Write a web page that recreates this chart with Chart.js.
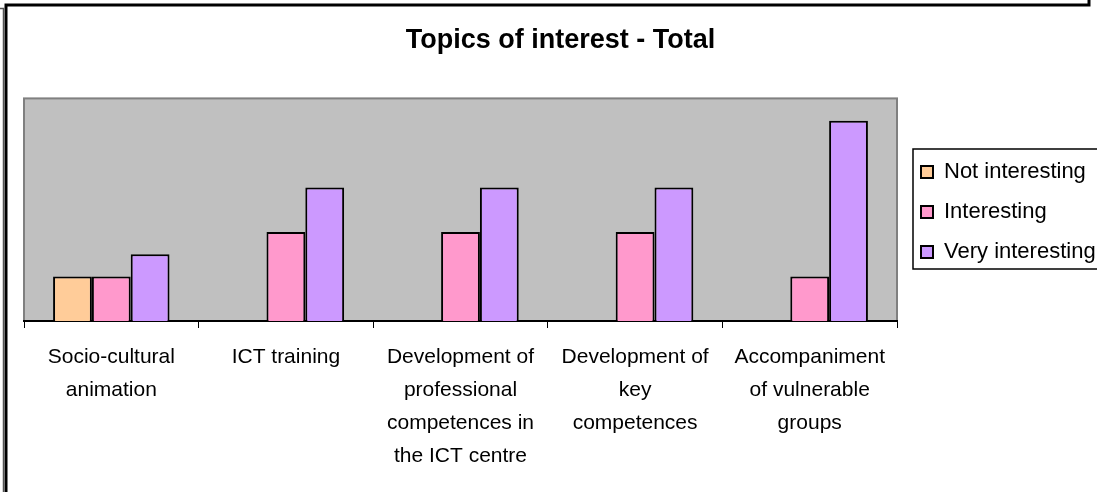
<!DOCTYPE html>
<html>
<head>
<meta charset="utf-8">
<title>Topics of interest - Total</title>
<script src="https://cdn.jsdelivr.net/npm/chart.js@4.4.1/dist/chart.umd.min.js"></script>
<style>
  body { margin: 0; background: #ffffff; }
  canvas { display: block; }
</style>
</head>
<body>
<canvas id="grafica" width="1097" height="492"></canvas>
<script>
// datos
var categorias = [
    ["Socio-cultural", "animation"],
    ["ICT training"],
    ["Development of", "professional", "competences in", "the ICT centre"],
    ["Development of", "key", "competences"],
    ["Accompaniment", "of vulnerable", "groups"]
];
var series = ["Not interesting", "Interesting", "Very interesting"];
var noInteresante = [2, 0, 0, 0, 0];
var interesante = [2, 4, 4, 4, 2];
var muyInteresante = [3, 6, 6, 6, 9];
var ejeMax = 10;

var fuente = "'Liberation Sans', Arial, sans-serif";

// marco negro del area del grafico
var marco = {
    id: "marco",
    beforeDraw: function (chart) {
        var ctx = chart.ctx;
        var a = chart.chartArea;
        ctx.save();
        ctx.fillStyle = "#ffffff";
        ctx.fillRect(0, 0, chart.width, chart.height);
        // fondo gris de la zona de trazado
        ctx.fillStyle = "#c0c0c0";
        ctx.fillRect(a.left, a.top, a.right - a.left, a.bottom - a.top);
        ctx.strokeStyle = "#808080";
        ctx.lineWidth = 2;
        ctx.strokeRect(a.left, a.top, a.right - a.left, a.bottom - a.top);
        // bordes exteriores
        ctx.strokeStyle = "#000000";
        ctx.lineWidth = 3;
        ctx.beginPath();
        ctx.moveTo(6, chart.height);
        ctx.lineTo(6, 5);
        ctx.lineTo(1089, 5);
        ctx.lineTo(1089, 0);
        ctx.stroke();
        ctx.lineWidth = 1.5;
        ctx.strokeStyle = "#555555";
        ctx.beginPath();
        ctx.moveTo(0, 8.5);
        ctx.lineTo(3.5, 8.5);
        ctx.lineTo(3.5, chart.height);
        ctx.stroke();
        ctx.restore();
    },
    afterLayout: function (chart) {
        // mover un poco la leyenda
        chart.legend.left += 6;
        chart.legend.top -= 34;
        chart.legend.bottom -= 34;
    },
    afterDraw: function (chart) {
        var cajas = chart.legend.legendHitBoxes;
        if (!cajas || !cajas.length) return;
        var ctx = chart.ctx;
        var arriba = cajas[0].top - 12;
        var abajo = cajas[cajas.length - 1].top + 28;
        ctx.save();
        ctx.strokeStyle = "#000000";
        ctx.lineWidth = 1.5;
        ctx.strokeRect(cajas[0].left - 8, arriba, 300, abajo - arriba);
        ctx.restore();
    }
};

var anchoLeyenda = {
    id: "anchoLeyenda",
    afterInit: function (chart) {
        var lg = chart.legend;
        var fitOriginal = lg.fit.bind(lg);
        lg.fit = function () {
            fitOriginal();
            this.width = 200;
        };
    }
};

var miCanvas = document.getElementById("grafica").getContext("2d");

var chart = new Chart(miCanvas, {
    type: "bar",
    data: {
        labels: categorias,
        datasets: [
            {
                label: series[0],
                backgroundColor: "#ffcc99",
                borderColor: "#000000",
                borderWidth: 2,
                data: noInteresante
            },
            {
                label: series[1],
                backgroundColor: "#ff99cc",
                borderColor: "#000000",
                borderWidth: 2,
                data: interesante
            },
            {
                label: series[2],
                backgroundColor: "#cc99ff",
                borderColor: "#000000",
                borderWidth: 2,
                data: muyInteresante
            }
        ]
    },
    options: {
        responsive: false,
        maintainAspectRatio: false,
        animation: false,
        layout: { padding: { left: 24, right: 0, top: 0, bottom: 0 } },
        datasets: {
            bar: { categoryPercentage: 0.667, barPercentage: 1.0 }
        },
        plugins: {
            title: {
                display: true,
                text: "Topics of interest - Total",
                color: "#000000",
                font: { family: fuente, size: 27, weight: "bold" },
                padding: { top: 24, bottom: 42 }
            },
            legend: {
                display: true,
                position: "right",
                align: "center",
                labels: {
                    color: "#000000",
                    font: { family: fuente, size: 22 },
                    boxWidth: 12,
                    boxHeight: 12,
                    padding: 18
                }
            },
            tooltip: { enabled: false }
        },
        scales: {
            x: {
                grid: {
                    offset: true,
                    drawOnChartArea: false,
                    drawTicks: true,
                    tickLength: 7,
                    color: "#000000",
                    lineWidth: 1
                },
                border: { display: true, color: "#000000", width: 2 },
                ticks: {
                    color: "#000000",
                    maxRotation: 0,
                    autoSkip: false,
                    padding: 13,
                    font: { family: fuente, size: 21, lineHeight: 1.57 }
                },
                afterFit: function (scale) {
                    scale.height = 171;
                }
            },
            y: {
                display: false,
                min: 0,
                max: ejeMax
            }
        }
    },
    plugins: [anchoLeyenda, marco]
});
</script>
</body>
</html>
